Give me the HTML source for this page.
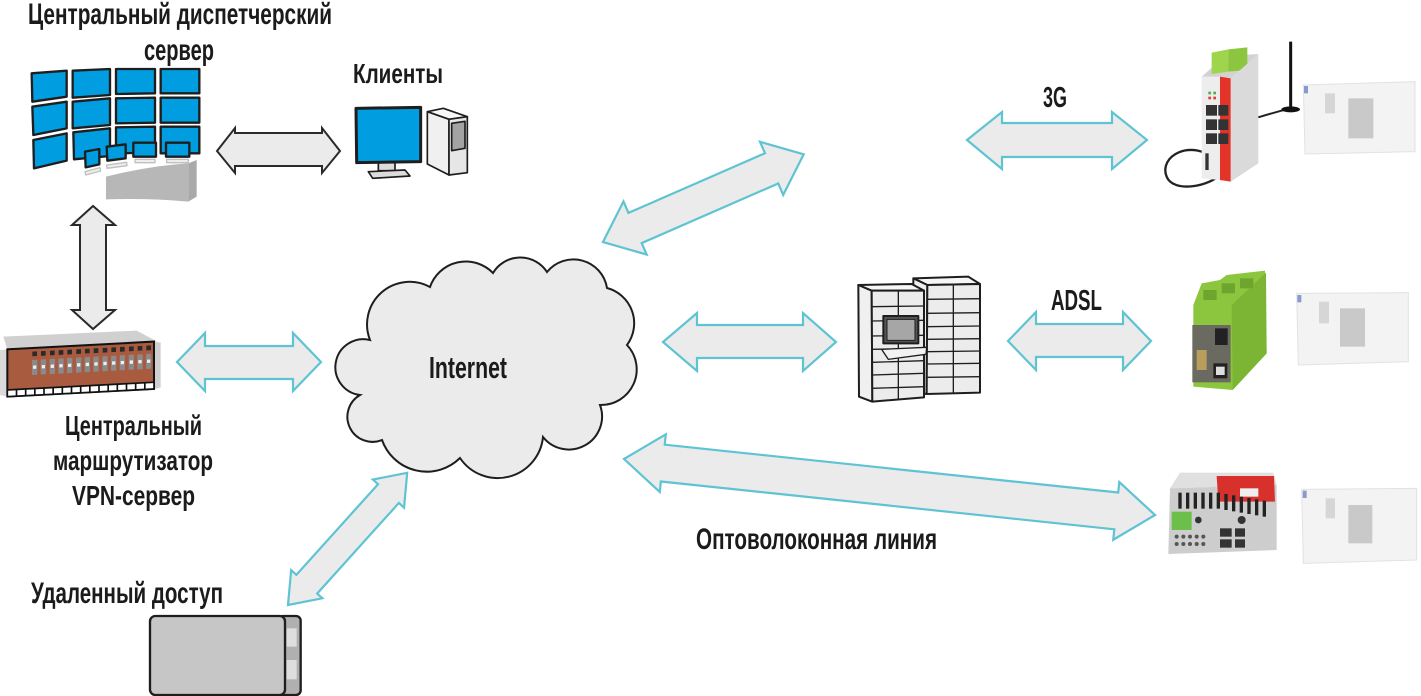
<!DOCTYPE html>
<html>
<head>
<meta charset="utf-8">
<style>
html,body{margin:0;padding:0;background:#fff;}
svg{display:block;}
text{font-family:"Liberation Sans","DejaVu Sans",sans-serif;font-weight:bold;fill:#1b1b1b;}
</style>
</head>
<body>
<svg width="1421" height="696" viewBox="0 0 1421 696" xmlns="http://www.w3.org/2000/svg">
<rect width="1421" height="696" fill="#fff"/>

<!-- ===== Video wall (zoom1 coords) ===== -->
<g transform="scale(0.33333)" stroke="#1e1e1e" stroke-width="7" stroke-linejoin="round">
  <g fill="#009ee0">
    <polygon points="95,220 200,212 200,290 97,305"/>
    <polygon points="97,320 200,305 200,385 100,405"/>
    <polygon points="100,420 200,400 200,482 102,505"/>
    <polygon points="218,212 330,207 330,285 218,293"/>
    <polygon points="218,305 330,295 330,375 218,385"/>
    <polygon points="220,397 330,385 330,468 222,478"/>
    <polygon points="348,207 465,207 465,280 348,282"/>
    <polygon points="348,295 465,293 465,368 348,370"/>
    <polygon points="348,382 465,380 465,458 348,460"/>
    <polygon points="482,207 598,207 598,280 482,280"/>
    <polygon points="482,293 598,293 598,368 482,368"/>
    <polygon points="482,380 598,380 598,460 482,460"/>
  </g>
  <!-- desk -->
  <path d="M318,530 Q450,497 565,490 L565,605 Q450,594 318,598 Z" fill="#b7b7b7" stroke="none"/>
  <polygon points="565,490 590,480 590,590 565,605" fill="#a9a9a9" stroke="none"/>
  <!-- keyboards -->
  <g fill="#ededed" stroke="#c0c0c0" stroke-width="4">
    <polygon points="255,515 300,503 302,513 257,525"/>
    <polygon points="320,495 380,487 381,497 321,505"/>
    <rect x="405" y="478" width="60" height="10"/>
    <rect x="500" y="478" width="65" height="10"/>
  </g>
  <!-- small monitors -->
  <g fill="#009ee0">
    <polygon points="255,455 298,447 298,493 257,502"/>
    <polygon points="320,440 377,433 377,475 322,482"/>
    <polygon points="400,428 468,428 468,470 400,470"/>
    <polygon points="498,428 568,428 568,470 498,470"/>
  </g>
</g>

<!-- ===== Client PC (zoom1 coords) ===== -->
<g transform="scale(0.33333)" stroke="#1e1e1e" stroke-width="7" stroke-linejoin="round">
  <polygon points="1135,486 1185,486 1185,512 1135,512" fill="#dcdcdc" stroke-width="5"/>
  <polygon points="1105,515 1215,510 1230,528 1118,535" fill="#dcdcdc" stroke-width="5"/>
  <polygon points="1068,325 1262,322 1262,485 1070,488" fill="#009ee0" stroke-width="9"/>
  <polygon points="1282,335 1330,325 1402,350 1347,358" fill="#f7f7f7" stroke-width="5"/>
  <polygon points="1282,335 1347,358 1347,525 1282,492" fill="#f0f0f0" stroke-width="5"/>
  <polygon points="1347,358 1402,350 1402,518 1347,525" fill="#e6e6e6" stroke-width="5"/>
  <polygon points="1355,370 1395,364 1395,445 1355,452" fill="#a3a3a3" stroke-width="5"/>
</g>

<!-- ===== Router (zoom2 coords, offset 0,300) ===== -->
<g transform="translate(0,300) scale(0.33333)">
  <polygon points="10,110 410,92 472,125 22,148" fill="#d0d0d0"/>
  <polygon points="0,150 22,148 22,290 0,285" fill="#d9d9d9"/>
  <polygon points="462,125 482,128 482,262 462,268" fill="#cfcfcf"/>
  <g transform="skewY(-3)">
    <rect x="22" y="149" width="440" height="142" fill="#a85b3f" stroke="#111" stroke-width="6"/>
    <g fill="#2a2a2a">
      <rect x="97" y="160" width="14" height="14"/><rect x="123" y="160" width="14" height="14"/>
      <rect x="150" y="160" width="14" height="14"/><rect x="176" y="160" width="14" height="14"/>
      <rect x="202" y="160" width="14" height="14"/><rect x="229" y="160" width="14" height="14"/>
      <rect x="255" y="160" width="14" height="14"/><rect x="281" y="160" width="14" height="14"/>
      <rect x="308" y="160" width="14" height="14"/><rect x="334" y="160" width="14" height="14"/>
      <rect x="360" y="160" width="14" height="14"/><rect x="387" y="160" width="14" height="14"/>
      <rect x="413" y="160" width="14" height="14"/><rect x="439" y="160" width="14" height="14"/>
    </g>
    <g fill="#8a8a8a">
      <rect x="96" y="185" width="16" height="45"/><rect x="122" y="185" width="16" height="45"/>
      <rect x="149" y="185" width="16" height="45"/><rect x="175" y="185" width="16" height="45"/>
      <rect x="201" y="185" width="16" height="45"/><rect x="228" y="185" width="16" height="45"/>
      <rect x="254" y="185" width="16" height="45"/><rect x="280" y="185" width="16" height="45"/>
      <rect x="307" y="185" width="16" height="45"/><rect x="333" y="185" width="16" height="45"/>
      <rect x="359" y="185" width="16" height="45"/><rect x="386" y="185" width="16" height="45"/>
      <rect x="412" y="185" width="16" height="45"/><rect x="438" y="185" width="16" height="45"/>
    </g>
    <g fill="#eee">
      <rect x="99" y="202" width="10" height="10"/><rect x="125" y="202" width="10" height="10"/>
      <rect x="152" y="202" width="10" height="10"/><rect x="178" y="202" width="10" height="10"/>
      <rect x="204" y="202" width="10" height="10"/><rect x="231" y="202" width="10" height="10"/>
      <rect x="257" y="202" width="10" height="10"/><rect x="283" y="202" width="10" height="10"/>
      <rect x="310" y="202" width="10" height="10"/><rect x="336" y="202" width="10" height="10"/>
      <rect x="362" y="202" width="10" height="10"/><rect x="389" y="202" width="10" height="10"/>
      <rect x="415" y="202" width="10" height="10"/><rect x="441" y="202" width="10" height="10"/>
    </g>
    <rect x="22" y="271" width="440" height="20" fill="#fff" stroke="#111" stroke-width="5"/>
    <g stroke="#111" stroke-width="5">
      <line x1="49.5" y1="271" x2="49.5" y2="291"/><line x1="77" y1="271" x2="77" y2="291"/>
      <line x1="104.5" y1="271" x2="104.5" y2="291"/><line x1="132" y1="271" x2="132" y2="291"/>
      <line x1="159.5" y1="271" x2="159.5" y2="291"/><line x1="187" y1="271" x2="187" y2="291"/>
      <line x1="214.5" y1="271" x2="214.5" y2="291"/><line x1="242" y1="271" x2="242" y2="291"/>
      <line x1="269.5" y1="271" x2="269.5" y2="291"/><line x1="297" y1="271" x2="297" y2="291"/>
      <line x1="324.5" y1="271" x2="324.5" y2="291"/><line x1="352" y1="271" x2="352" y2="291"/>
      <line x1="379.5" y1="271" x2="379.5" y2="291"/><line x1="407" y1="271" x2="407" y2="291"/>
      <line x1="434.5" y1="271" x2="434.5" y2="291"/>
    </g>
  </g>
</g>

<!-- ===== Cloud ===== -->
<path d="M370,340 A42.6,42.6 0 0 1 430,287 A37.9,37.9 0 0 1 493,273 A31.8,31.8 0 0 1 547,272 A34,34 0 0 1 607,288 A36.5,36.5 0 0 1 627,345 A35.6,35.6 0 0 1 600,405 A33.1,33.1 0 0 1 543,437 A45.5,45.5 0 0 1 460,458 A47.4,47.4 0 0 1 382,440 A25.1,25.1 0 0 1 360,395 A28,28 0 1 1 370,340 Z" fill="#ebebeb" stroke="#1e1e1e" stroke-width="2"/>

<!-- ===== Server cabinets (zoom5 coords, offset 640,260) ===== -->
<g transform="translate(640,260) scale(0.33333)" stroke="#1e1e1e" stroke-width="6" stroke-linejoin="round">
  <polygon points="820,55 985,50 1020,72 862,75" fill="#f6f6f6"/>
  <polygon points="820,55 862,75 860,402 820,395" fill="#f0f0f0"/>
  <polygon points="862,75 1020,72 1020,398 860,402" fill="#ececec"/>
  <g stroke-width="4">
    <line x1="940" y1="73" x2="940" y2="400"/>
    <line x1="862" y1="118" x2="1020" y2="116"/><line x1="862" y1="160" x2="1020" y2="158"/>
    <line x1="862" y1="200" x2="1020" y2="198"/><line x1="862" y1="238" x2="1020" y2="236"/>
    <line x1="862" y1="275" x2="1020" y2="273"/><line x1="862" y1="312" x2="1020" y2="310"/>
    <line x1="862" y1="352" x2="1020" y2="350"/>
  </g>
  <polygon points="655,75 815,72 852,92 695,92" fill="#f6f6f6"/>
  <polygon points="655,75 695,92 697,425 657,410" fill="#f0f0f0"/>
  <polygon points="695,92 852,92 852,412 697,425" fill="#ececec"/>
  <g stroke-width="4">
    <line x1="775" y1="92" x2="775" y2="418"/>
    <line x1="695" y1="140" x2="852" y2="138"/><line x1="695" y1="183" x2="852" y2="181"/>
    <line x1="695" y1="228" x2="852" y2="226"/><line x1="695" y1="268" x2="852" y2="266"/>
    <line x1="696" y1="307" x2="852" y2="302"/><line x1="696" y1="345" x2="852" y2="340"/>
    <line x1="696" y1="385" x2="852" y2="380"/>
  </g>
  <rect x="730" y="168" width="105" height="82" fill="#555"/>
  <rect x="741" y="178" width="84" height="63" fill="#a6a6a6" stroke-width="3"/>
  <polygon points="725,268 860,262 858,283 745,298" fill="#f2f2f2" stroke-width="4"/>
</g>

<!-- ===== Remote access (zoom7 coords, offset 0,440) ===== -->
<g transform="translate(0,440) scale(0.33333)" stroke="#1e1e1e" stroke-width="7">
  <rect x="835" y="528" width="67" height="237" rx="14" fill="#b0b0b0"/>
  <rect x="860" y="565" width="30" height="55" fill="#dedede" stroke="none"/>
  <rect x="860" y="660" width="30" height="58" fill="#dedede" stroke="none"/>
  <rect x="450" y="528" width="405" height="237" rx="16" fill="#c6c6c6"/>
</g>

<!-- ===== 3G router + enclosure (zoom3 coords, offset 1140,30) ===== -->
<g transform="translate(1140,30) scale(0.33333)">
  <path d="M240,395 C150,320 55,380 80,440 C100,490 210,470 245,430" fill="none" stroke="#222" stroke-width="7"/>
  <polygon points="185,140 255,78 355,72 272,145" fill="#d2d2d2"/>
  <polygon points="215,68 265,58 265,125 215,132" fill="#9fd54c"/>
  <polygon points="265,58 322,52 322,120 265,125" fill="#8cc63f"/>
  <polygon points="272,145 355,72 355,400 272,455" fill="#dadada"/>
  <polygon points="185,140 240,140 240,450 185,445" fill="#ededed"/>
  <polygon points="240,140 272,145 272,455 240,450" fill="#e4342a"/>
  <g fill="#333">
    <rect x="198" y="225" width="33" height="32"/><rect x="235" y="225" width="30" height="32"/>
    <rect x="198" y="268" width="33" height="32"/><rect x="235" y="268" width="30" height="32"/>
    <rect x="198" y="310" width="33" height="32"/><rect x="235" y="310" width="30" height="32"/>
    <rect x="196" y="370" width="10" height="50"/>
  </g>
  <g fill="#4caf50"><rect x="205" y="185" width="8" height="8"/><rect x="220" y="185" width="8" height="8"/></g>
  <g fill="#e53935"><rect x="205" y="200" width="8" height="8"/><rect x="220" y="200" width="8" height="8"/></g>
  <path d="M452,235 Q400,248 355,262" fill="none" stroke="#222" stroke-width="6"/>
  <line x1="452" y1="35" x2="452" y2="230" stroke="#111" stroke-width="9"/>
  <ellipse cx="452" cy="238" rx="28" ry="9" fill="#111"/>
  <polygon points="490,165 825,155 825,365 495,372" fill="#f3f3f3" stroke="#e2e2e2" stroke-width="3"/>
  <rect x="625" y="205" width="75" height="120" fill="#c9c9c9"/>
  <rect x="555" y="190" width="30" height="60" fill="#d6d6d6"/>
  <rect x="492" y="168" width="12" height="22" fill="#8a9ad0"/>
</g>

<!-- ===== ADSL modem + switch + enclosures (zoom4 coords, offset 1140,250) ===== -->
<g transform="translate(1140,250) scale(0.33333)">
  <polygon points="160,165 185,100 240,90 260,75 375,62 380,310 278,420 160,410" fill="#8cc63f"/>
  <polygon points="275,165 378,68 380,310 278,420" fill="#7cb534"/>
  <g fill="#6ea52e"><rect x="190" y="120" width="40" height="30"/><rect x="245" y="100" width="40" height="30"/><rect x="300" y="85" width="40" height="30"/></g>
  <rect x="157" y="225" width="115" height="172" fill="#6a6a60"/>
  <rect x="225" y="235" width="38" height="50" fill="#222"/>
  <rect x="220" y="340" width="42" height="45" fill="#222"/>
  <rect x="228" y="350" width="26" height="25" fill="#ddd"/>
  <rect x="170" y="300" width="30" height="60" fill="#b89d5c"/>
  <polygon points="470,130 805,128 805,335 475,345" fill="#f3f3f3" stroke="#e2e2e2" stroke-width="3"/>
  <rect x="600" y="175" width="75" height="115" fill="#c9c9c9"/>
  <rect x="537" y="155" width="30" height="65" fill="#d6d6d6"/>
  <rect x="472" y="135" width="12" height="22" fill="#8a9ad0"/>

  <polygon points="120,668 400,668 410,705 90,715" fill="#e0e0e0"/>
  <polygon points="90,715 410,705 410,900 85,912" fill="#cdcdcd"/>
  <polygon points="230,678 402,678 405,755 235,755" fill="#d8312c"/>
  <rect x="300" y="715" width="55" height="25" fill="#eee"/>
  <g fill="#222">
    <rect x="115" y="728" width="10" height="48"/><rect x="138" y="728" width="10" height="48"/>
    <rect x="161" y="728" width="10" height="48"/><rect x="184" y="728" width="10" height="48"/>
    <rect x="207" y="728" width="10" height="48"/><rect x="230" y="728" width="10" height="48"/>
    <rect x="253" y="732" width="10" height="48"/><rect x="276" y="736" width="10" height="48"/>
    <rect x="299" y="740" width="10" height="48"/><rect x="322" y="744" width="10" height="48"/>
    <rect x="345" y="748" width="10" height="48"/><rect x="368" y="752" width="10" height="48"/>
  </g>
  <rect x="95" y="785" width="60" height="55" fill="#6cbf4a"/>
  <g fill="#333">
    <rect x="240" y="835" width="35" height="25"/><rect x="240" y="868" width="35" height="25"/>
    <rect x="285" y="835" width="30" height="25"/><rect x="285" y="868" width="30" height="25"/>
    <circle cx="305" cy="810" r="12"/><circle cx="175" cy="810" r="10"/>
  </g>
  <g fill="#555">
    <circle cx="110" cy="860" r="6"/><circle cx="130" cy="860" r="6"/><circle cx="150" cy="860" r="6"/><circle cx="170" cy="860" r="6"/><circle cx="190" cy="860" r="6"/>
    <circle cx="110" cy="882" r="6"/><circle cx="130" cy="882" r="6"/><circle cx="150" cy="882" r="6"/><circle cx="170" cy="882" r="6"/><circle cx="190" cy="882" r="6"/>
  </g>
  <polygon points="485,718 830,715 830,930 490,940" fill="#f3f3f3" stroke="#e2e2e2" stroke-width="3"/>
  <rect x="625" y="765" width="72" height="115" fill="#c9c9c9"/>
  <rect x="557" y="745" width="28" height="60" fill="#d6d6d6"/>
  <rect x="488" y="722" width="12" height="22" fill="#8a9ad0"/>
</g>

<!-- ===== Arrows ===== -->
<g fill="#ebebeb" stroke="#2a2a2a" stroke-width="2" stroke-linejoin="miter">
  <polygon points="217,151 235,128 235,133 322,133 322,128 340,151 322,173 322,166 235,166 235,173"/>
  <polygon points="93,206 72,225 80,225 80,310 72,310 93,329 115,310 106,310 106,225 115,225"/>
</g>
<g fill="#ebebeb" stroke="#5ec3d2" stroke-width="2.2" stroke-linejoin="miter">
  <polygon points="177,362 205,333 205,346 293,346 293,333 321,362 293,391 293,379 205,379 205,391"/>
  <polygon points="663,342 697,313 697,325 803,325 803,313 836,342 803,371 803,358 697,358 697,371"/>
  <polygon points="1008,341 1036,312 1036,324 1123,324 1123,312 1151,341 1123,370 1123,357 1036,357 1036,370"/>
  <polygon points="967,140 1002,112 1002,123 1112,123 1112,112 1147,140 1112,169 1112,157 1002,157 1002,169"/>
  <polygon transform="translate(603,242) rotate(-23.6)" points="0,0 35,-29 35,-16.5 184,-16.5 184,-29 219,0 184,29 184,16.5 35,16.5 35,29"/>
  <polygon transform="translate(288,605) rotate(-47.96)" points="0,0 28,-21 28,-14 150,-14 150,-21 178,0 150,21 150,14 28,14 28,21"/>
  <polygon transform="translate(624,459) rotate(6.02)" points="0,0 39,-29 39,-18.5 495,-18.5 495,-29 534,0 495,29 495,18.5 39,18.5 39,29"/>
</g>

<!-- ===== Labels ===== -->
<text x="28" y="24" font-size="30" textLength="304" lengthAdjust="spacingAndGlyphs">Центральный диспетчерский</text>
<text x="144" y="60" font-size="30" textLength="70" lengthAdjust="spacingAndGlyphs">сервер</text>
<text x="353" y="83" font-size="28" textLength="90" lengthAdjust="spacingAndGlyphs">Клиенты</text>
<text x="65" y="435" font-size="28" textLength="137" lengthAdjust="spacingAndGlyphs">Центральный</text>
<text x="53" y="470" font-size="28" textLength="160" lengthAdjust="spacingAndGlyphs">маршрутизатор</text>
<text x="72" y="505" font-size="28" textLength="123" lengthAdjust="spacingAndGlyphs">VPN-сервер</text>
<text x="31" y="603" font-size="30" textLength="192" lengthAdjust="spacingAndGlyphs">Удаленный доступ</text>
<text x="429" y="378" font-size="31" textLength="78" lengthAdjust="spacingAndGlyphs">Internet</text>
<text x="1043" y="107" font-size="29" textLength="24" lengthAdjust="spacingAndGlyphs">3G</text>
<text x="1051" y="310" font-size="29" textLength="51" lengthAdjust="spacingAndGlyphs">ADSL</text>
<text x="696" y="549" font-size="30" textLength="241" lengthAdjust="spacingAndGlyphs">Оптоволоконная линия</text>
</svg>
</body>
</html>
